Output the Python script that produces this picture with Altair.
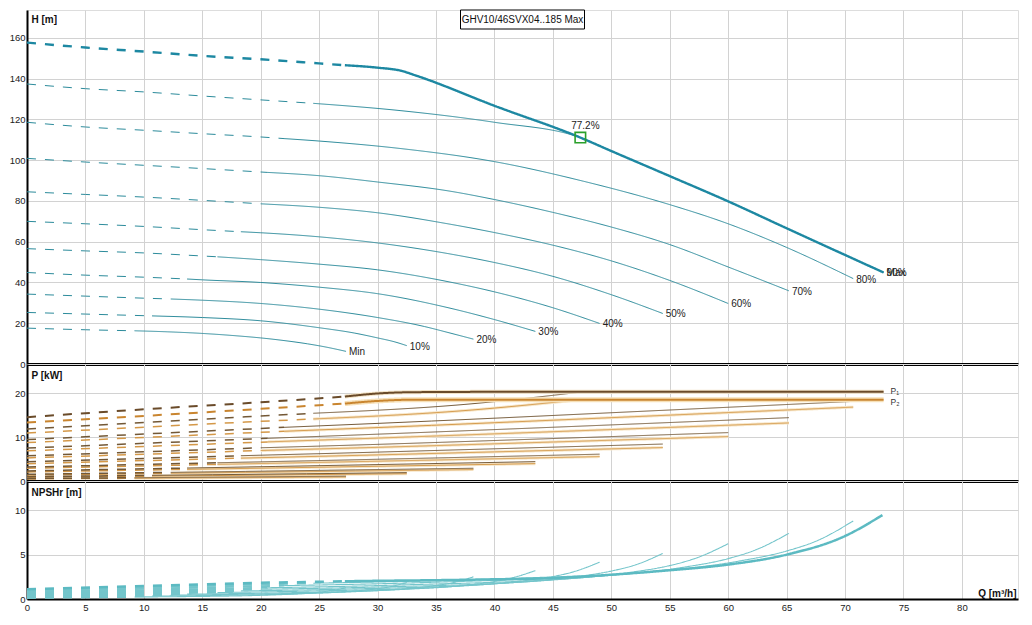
import altair as alt
import pandas as pd

# ---------------- data ----------------
CURVES = ["Min", "10%", "20%", "30%", "40%", "50%", "60%", "70%", "80%", "90%", "Max"]
DASH_END = {"Min": 9.2, "10%": 10.7, "20%": 12.3, "30%": 13.7, "40%": 16.3, "50%": 18.3,
            "60%": 20.0, "70%": 20.6, "80%": 22.0, "90%": 24.5, "Max": 27.2}

H_Q = {
    "Min": [0, 5, 9.2, 12, 15, 18, 20, 22, 24, 25.5, 27.3],
    "10%": [0, 5, 10.7, 15, 20, 25, 28, 30, 31.5, 32.5],
    "20%": [0, 5, 10, 12.3, 15, 20, 25, 30, 34, 36.2, 38.2],
    "30%": [0, 5, 10, 13.7, 15, 20, 25, 30, 36.2, 40, 43.5],
    "40%": [0, 5, 10, 15, 16.3, 20, 25, 30, 36.2, 40, 45, 49],
    "50%": [0, 5, 10, 15, 18.3, 20, 25, 30, 36.2, 40, 45, 50, 54.4],
    "60%": [0, 5, 10, 15, 20, 25, 30, 36.2, 40, 45, 50, 55, 60],
    "70%": [0, 5, 10, 15, 20.6, 25, 30, 36.2, 40, 45, 50, 55, 60, 65.2],
    "80%": [0, 5, 10, 15, 20, 22, 25, 32, 40, 47.6, 55, 60, 65, 70.7],
    "90%": [0, 5, 10, 15, 20, 24.5, 32, 40, 47.35, 50, 55, 60, 65, 70, 73.3],
    "Max": [0, 5, 10, 15, 20, 25, 27.2, 30, 32, 33.3, 40, 47.35, 50, 55, 60, 65, 70, 73.3],
}
H_VAL = {
    "Min": [17.6, 16.8, 16.3, 15.8, 15.0, 13.8, 12.8, 11.5, 9.9, 8.4, 6.2],
    "10%": [25.3, 24.5, 23.6, 22.8, 21.2, 17.8, 15.2, 12.8, 10.8, 9.0],
    "20%": [34.3, 33.3, 32.3, 31.9, 31.3, 29.7, 26.9, 22.8, 18.4, 15.2, 12.2],
    "30%": [44.9, 43.6, 42.6, 41.7, 41.3, 40.0, 37.7, 34.5, 27.4, 21.8, 16.0],
    "40%": [56.6, 55.5, 54.5, 53.0, 52.6, 51.2, 49.0, 46.2, 40.2, 35.4, 27.6, 19.9],
    "50%": [70.0, 68.8, 67.5, 65.9, 64.9, 64.4, 62.4, 59.4, 54.0, 49.8, 43.0, 34.0, 24.8],
    "60%": [84.5, 83.2, 81.9, 80.3, 78.6, 76.9, 74.2, 68.6, 64.5, 58.3, 50.6, 41.0, 29.7],
    "70%": [100.9, 99.1, 97.5, 95.9, 94.0, 92.4, 89.3, 84.8, 80.7, 74.4, 67.2, 58.6, 47.6, 35.9],
    "80%": [118.6, 116.3, 114.7, 113.0, 111.4, 110.6, 109.4, 105.7, 99.3, 89.7, 78.2, 68.8, 57.2, 41.9],
    "90%": [137.4, 135.1, 133.5, 131.5, 129.6, 127.9, 124.3, 118.6, 111.1, 104.5, 92.2, 79.8, 66.6, 53.5, 44.9],
    "Max": [157.7, 155.3, 153.3, 151.2, 149.5, 147.5, 146.6, 145.4, 143.9, 141.5, 126.7, 111.1,
            104.5, 92.2, 79.8, 66.6, 53.5, 44.9],
}

P_Q = {
    "Min": [0, 9.2, 13.4, 20.1, 27.3],
    "10%": [0, 10.7, 15.9, 23.9, 32.5],
    "20%": [0, 12.3, 18.7, 28.1, 38.2],
    "30%": [0, 13.7, 21.3, 32.0, 43.5],
    "40%": [0, 16.3, 24.0, 36.1, 49.0],
    "50%": [0, 18.3, 26.7, 40.0, 54.4],
    "60%": [0, 20.0, 29.4, 44.2, 60.0],
    "70%": [0, 20.6, 31.9, 48.0, 65.2],
    "80%": [0, 22.0, 34.6, 52.0, 70.7],
    "90%": [0, 18.7, 24.5, 37.4, 47.35],
    "Max": [0, 10, 20, 27.2, 30, 33.4, 45, 60, 73.3],
}
P1_VAL = {
    "Min": [0.57, 0.74, 0.83, 0.96, 1.1],
    "10%": [0.99, 1.29, 1.43, 1.65, 1.9],
    "20%": [1.51, 1.96, 2.18, 2.53, 2.9],
    "30%": [2.29, 2.95, 3.31, 3.83, 4.4],
    "40%": [3.17, 4.15, 4.59, 5.31, 6.1],
    "50%": [4.37, 5.75, 6.33, 7.32, 8.4],
    "60%": [5.72, 7.55, 8.28, 9.58, 11.0],
    "70%": [7.49, 9.70, 10.84, 12.54, 14.4],
    "80%": [9.41, 12.2, 13.63, 15.77, 18.1],
    "90%": [11.8, 14.6, 15.4, 17.4, 20.2],
    "Max": [14.5, 16.3, 17.9, 19.2, 19.9, 20.2, 20.3, 20.3, 20.3],
}
P2_VAL = {
    "Min": [0.47, 0.61, 0.68, 0.78, 0.9],
    "10%": [0.86, 1.12, 1.24, 1.44, 1.65],
    "20%": [1.35, 1.75, 1.96, 2.26, 2.6],
    "30%": [2.05, 2.65, 2.97, 3.44, 3.95],
    "40%": [2.89, 3.78, 4.18, 4.83, 5.55],
    "50%": [3.95, 5.20, 5.72, 6.62, 7.6],
    "60%": [5.25, 6.93, 7.61, 8.80, 10.1],
    "70%": [6.86, 8.89, 9.94, 11.50, 13.2],
    "80%": [8.74, 11.3, 12.65, 14.63, 16.8],
    "90%": [10.9, 13.4, 14.1, 16.0, 18.5],
    "Max": [13.3, 14.8, 16.4, 17.6, 18.2, 18.5, 18.5, 18.5, 18.5],
}

N_Q = {
    "Min": [0, 6.7, 9.2, 13.4, 20.1, 23.5, 25.1, 26.1, 27.3],
    "10%": [0, 8.0, 10.7, 15.9, 23.9, 27.9, 29.9, 31.1, 32.5],
    "20%": [0, 9.4, 12.3, 18.7, 28.1, 32.8, 35.1, 36.6, 38.2],
    "30%": [0, 10.7, 13.7, 21.3, 32.0, 37.4, 40.0, 41.6, 43.5],
    "40%": [0, 12.0, 16.3, 24.0, 36.1, 42.1, 45.1, 46.9, 49.0],
    "50%": [0, 13.3, 18.3, 26.7, 40.0, 46.7, 50.0, 52.1, 54.4],
    "60%": [0, 14.7, 20.0, 29.4, 44.2, 51.5, 55.2, 57.4, 60.0],
    "70%": [0, 16.0, 20.6, 31.9, 48.0, 56.0, 60.0, 62.4, 65.2],
    "80%": [0, 17.3, 22.0, 34.6, 52.0, 60.7, 65.0, 67.7, 70.7],
    "90%": [0, 18.7, 24.5, 37.4, 47.35],
    "Max": [0, 10, 15, 20, 25, 27.2, 30, 35, 40, 45, 50, 55, 60, 65, 70, 73.2],
}
N_VAL = {
    "Min": [0.12, 0.20, 0.23, 0.27, 0.42, 0.61, 0.78, 0.96, 1.27],
    "10%": [0.17, 0.29, 0.33, 0.40, 0.62, 0.89, 1.14, 1.39, 1.85],
    "20%": [0.24, 0.39, 0.44, 0.54, 0.83, 1.20, 1.54, 1.88, 2.5],
    "30%": [0.30, 0.50, 0.55, 0.68, 1.07, 1.53, 1.97, 2.41, 3.2],
    "40%": [0.39, 0.65, 0.73, 0.89, 1.38, 1.99, 2.55, 3.12, 4.15],
    "50%": [0.48, 0.80, 0.91, 1.10, 1.71, 2.46, 3.15, 3.86, 5.13],
    "60%": [0.59, 0.97, 1.10, 1.33, 2.07, 2.98, 3.83, 4.68, 6.23],
    "70%": [0.70, 1.15, 1.27, 1.58, 2.46, 3.54, 4.55, 5.56, 7.4],
    "80%": [0.83, 1.37, 1.51, 1.88, 2.93, 4.22, 5.41, 6.62, 8.8],
    "90%": [0.96, 1.60, 1.78, 2.15, 2.6],
    "Max": [1.1, 1.46, 1.65, 1.83, 1.94, 2.0, 2.05, 2.12, 2.22, 2.36, 2.74, 3.24, 3.88, 5.0, 7.1, 9.46],
}

BEP_Q = [47.35]
BEP_H = [111.1]
BEP_TEXT = ["77.2%"]
TITLE = "GHV10/46SVX04..185 Max"

X_TICKS = list(range(0, 85, 5))
H_TICKS = list(range(0, 161, 20))
P_TICKS = [0, 10, 20]
N_TICKS = [0, 5, 10]

# ---------------- styling ----------------
FONT = "Liberation Sans"
GRID = "#d2d2d2"
H_THIN, H_MAX = "#2c8b9b", "#1d88a2"
P1_C, P2_C = "#735836", "#d49848"
P1_MAX, P2_MAX = "#6a4b2a", "#c9852f"
N_THIN, N_MAX = "#74c5cb", "#5cbac2"
DASH = [9, 9]
W = 991


def rows(qdict, vdict, field, names):
    out = []
    for c in names:
        qd = DASH_END[c]
        for i, (q, v) in enumerate(zip(qdict[c], vdict[c])):
            if q <= qd:
                out.append({"curve": c, "seg": "dash", "key": c + "_d", "Q": q, field: v, "i": i})
            if q >= qd:
                out.append({"curve": c, "seg": "solid", "key": c + "_s", "Q": q, field: v, "i": i})
    return pd.DataFrame(out)


xs = alt.Scale(domain=[0, 84.8], nice=False, zero=False)


def x_axis(bottom):
    if bottom:
        return alt.Axis(values=X_TICKS, grid=True, gridColor=GRID, ticks=False, labelFlush=False,
                        labelFont=FONT, labelFontSize=9.5, labelColor="#222", labelPadding=3,
                        domainColor="black", domainWidth=2,
                        title="Q [m³/h]", titleFont=FONT, titleFontSize=10, titleFontWeight="bold",
                        titleColor="#111", titleAlign="right", titleAnchor="end",
                        titleX=W - 2, titleY=-3, titleBaseline="alphabetic")
    return alt.Axis(values=X_TICKS, grid=True, gridColor=GRID, ticks=False, labels=False,
                    title=None, domainColor="black", domainWidth=3)


def y_axis(ticks, title, ty):
    return alt.Axis(values=ticks, grid=True, gridColor=GRID, ticks=False, labelFlush=False,
                    labelFont=FONT, labelFontSize=9.5, labelColor="#222", labelPadding=2,
                    domainColor="black", domainWidth=2,
                    title=title, titleFont=FONT, titleFontSize=10, titleFontWeight="bold",
                    titleColor="#111", titleAngle=0, titleAlign="left", titleAnchor="start",
                    titleBaseline="alphabetic", titleX=4, titleY=ty)


def lines(df, field, yscale, xax, yax, cond, color, width, dashed, interp="monotone"):
    mk = alt.Chart(df).mark_line(color=color, strokeWidth=width, interpolate=interp,
                                 strokeDash=DASH if dashed else [1, 0])
    return mk.transform_filter(cond + (" && datum.seg == 'dash'" if dashed else " && datum.seg == 'solid'")).encode(
        x=alt.X("Q:Q", scale=xs, axis=xax),
        y=alt.Y(field + ":Q", scale=yscale, axis=yax),
        detail="key:N",
        order="i:Q",
    )


thin = "datum.curve != 'Max'"
mx = "datum.curve == 'Max'"

# ---------------- H panel ----------------
df_h = rows(H_Q, H_VAL, "H", CURVES)
hs = alt.Scale(domain=[0, 173.7], nice=False, zero=False)
hx = x_axis(False)
hy = y_axis(H_TICKS, "H [m]", 12)

h_layers = [
    lines(df_h, "H", hs, hx, hy, thin, H_THIN, 1, True),
    lines(df_h, "H", hs, hx, hy, thin, H_THIN, 1, False),
    lines(df_h, "H", hs, hx, hy, mx, H_MAX, 2.4, True),
    lines(df_h, "H", hs, hx, hy, mx, H_MAX, 2.4, False),
]
df_lab = pd.DataFrame({"curve": CURVES,
                       "Q": [H_Q[c][-1] for c in CURVES],
                       "H": [H_VAL[c][-1] for c in CURVES]})
h_layers.append(alt.Chart(df_lab).mark_text(align="left", baseline="middle", dx=3, dy=1,
                                            font=FONT, fontSize=10, color="#222").encode(
    x=alt.X("Q:Q", scale=xs, axis=hx), y=alt.Y("H:Q", scale=hs, axis=hy), text="curve:N"))
df_bep = pd.DataFrame({"Q": BEP_Q, "H": BEP_H, "t": BEP_TEXT})
h_layers.append(alt.Chart(df_bep).mark_point(shape="square", size=110, filled=False,
                                             color="#2aa02a", strokeWidth=1.6, opacity=1).encode(
    x=alt.X("Q:Q", scale=xs, axis=hx), y=alt.Y("H:Q", scale=hs, axis=hy)))
h_layers.append(alt.Chart(df_bep).mark_text(align="center", baseline="middle", dx=5, dy=-12,
                                            font=FONT, fontSize=10, color="#222").encode(
    x=alt.X("Q:Q", scale=xs, axis=hx), y=alt.Y("H:Q", scale=hs, axis=hy), text="t:N"))
df_title = pd.DataFrame({"t": [TITLE]})
h_layers.append(alt.Chart(df_title).mark_rect(fill="white", stroke="black", strokeWidth=1).encode(
    x=alt.value(W / 2 - 62), x2=alt.value(W / 2 + 62), y=alt.value(0), y2=alt.value(19)))
h_layers.append(alt.Chart(df_title).mark_text(align="center", baseline="middle", font=FONT,
                                              fontSize=10, color="#111").encode(
    x=alt.value(W / 2), y=alt.value(10), text="t:N"))
h_chart = alt.layer(*h_layers).properties(width=W, height=354)

# ---------------- P panel ----------------
df_p1 = rows(P_Q, P1_VAL, "P", CURVES)
df_p2 = rows(P_Q, P2_VAL, "P", CURVES)
ps = alt.Scale(domain=[0, 26.6], nice=False, zero=False)
px = x_axis(False)
py = y_axis(P_TICKS, "P [kW]", 14)
p_layers = [
    lines(df_p2, "P", ps, px, py, thin, "#f7e6c8", 3, False),
    lines(df_p2, "P", ps, px, py, thin, P2_C, 1.5, True, "linear"),
    lines(df_p1, "P", ps, px, py, thin, P1_C, 1.5, True, "linear"),
    lines(df_p2, "P", ps, px, py, thin, P2_C, 1, False),
    lines(df_p1, "P", ps, px, py, thin, P1_C, 1, False),
    lines(df_p2, "P", ps, px, py, mx, "#f6e0b8", 5, False),
    lines(df_p1, "P", ps, px, py, mx, "#f3e3c6", 4, False),
    lines(df_p2, "P", ps, px, py, mx, P2_MAX, 2, True),
    lines(df_p1, "P", ps, px, py, mx, P1_MAX, 2, True),
    lines(df_p2, "P", ps, px, py, mx, P2_MAX, 2, False),
    lines(df_p1, "P", ps, px, py, mx, P1_MAX, 2, False),
]
df_p1lab = pd.DataFrame({"Q": [P_Q["Max"][-1]], "P": [P1_VAL["Max"][-1]], "t": ["P₁"]})
df_p2lab = pd.DataFrame({"Q": [P_Q["Max"][-1]], "P": [P2_VAL["Max"][-1]], "t": ["P₂"]})
p_layers.append(alt.Chart(df_p1lab).mark_text(align="left", baseline="middle", dx=7, dy=-1,
                                              font=FONT, fontSize=8.5, color="#333").encode(
    x=alt.X("Q:Q", scale=xs, axis=px), y=alt.Y("P:Q", scale=ps, axis=py), text="t:N"))
p_layers.append(alt.Chart(df_p2lab).mark_text(align="left", baseline="middle", dx=7, dy=2,
                                              font=FONT, fontSize=8.5, color="#333").encode(
    x=alt.X("Q:Q", scale=xs, axis=px), y=alt.Y("P:Q", scale=ps, axis=py), text="t:N"))
p_chart = alt.layer(*p_layers).properties(width=W, height=117)

# ---------------- NPSH panel ----------------
df_n = rows(N_Q, N_VAL, "N", CURVES)
ns = alt.Scale(domain=[0, 13.3], nice=False, zero=False)
nx = x_axis(True)
ny = y_axis(N_TICKS, "NPSHr [m]", 14)
n_layers = [
    lines(df_n, "N", ns, nx, ny, thin, N_THIN, 2, True, "linear"),
    lines(df_n, "N", ns, nx, ny, thin, N_THIN, 1.1, False),
    lines(df_n, "N", ns, nx, ny, mx, N_MAX, 2.5, True, "linear"),
    lines(df_n, "N", ns, nx, ny, mx, N_MAX, 2.5, False),
]
n_chart = alt.layer(*n_layers).properties(width=W, height=118)

chart = alt.vconcat(h_chart, p_chart, n_chart, spacing=0, bounds="flush").properties(
    padding={"left": 0, "top": 1, "right": 5, "bottom": 2}
).configure_view(stroke="black", strokeWidth=1).configure(background="white")

chart.save("out.html", embed_options={"renderer": "svg", "actions": False})
